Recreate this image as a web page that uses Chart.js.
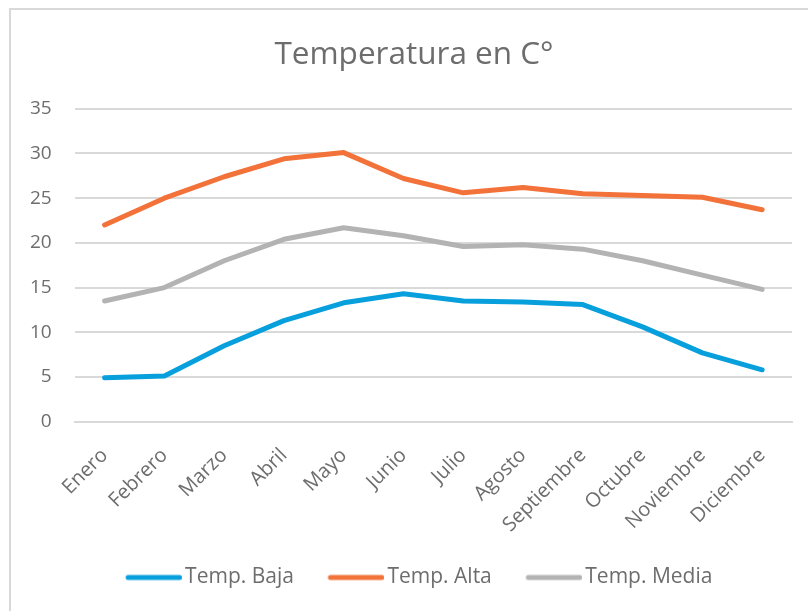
<!DOCTYPE html>
<html>
<head>
<meta charset="utf-8">
<script src="https://cdn.jsdelivr.net/npm/chart.js@4/dist/chart.umd.min.js"></script>
<style>
  html, body { margin: 0; padding: 0; background: #fff; overflow: hidden; width: 808px; height: 611px; }
  #box { position: absolute; left: 9px; top: 8px; width: 818px; height: 620px; border: 2px solid #d9d9d9; }
  #chart { display: block; }
</style>
</head>
<body>
<div id="box"><canvas id="chart" width="818" height="602"></canvas></div>
<script>
const months = ['Enero', 'Febrero', 'Marzo', 'Abril', 'Mayo', 'Junio', 'Julio', 'Agosto', 'Septiembre', 'Octubre', 'Noviembre', 'Diciembre'];
const tempBaja = [4.9, 5.1, 8.5, 11.3, 13.3, 14.3, 13.5, 13.4, 13.1, 10.6, 7.7, 5.8];
const tempAlta = [22, 25, 27.4, 29.4, 30.1, 27.2, 25.6, 26.2, 25.5, 25.3, 25.1, 23.7];
const tempMedia = [13.5, 15, 18, 20.4, 21.7, 20.8, 19.6, 19.8, 19.3, 18, 16.4, 14.8];

const textColor = '#6d6d6d';
const fontFamily = "'Open Sans', 'Noto Sans', sans-serif";
const legendFont = 21;
const keyWidth = 49; // legend box width

// legend key: a line that runs a bit past the box so it sits close to the text
const legendLine = (color) => {
    const shift = legendFont / 2 - 3;
    const c = document.createElement('canvas');
    c.width = keyWidth + 2 * shift;
    c.height = 8;
    const g = c.getContext('2d');
    g.strokeStyle = color;
    g.lineWidth = 5;
    g.lineCap = 'round';
    g.beginPath();
    g.moveTo(shift + 2.5, 4);
    g.lineTo(c.width - 2.5, 4);
    g.stroke();
    return c;
};

const makeSet = (label, data, color) => ({
    label: label,
    data: data,
    borderColor: color,
    backgroundColor: color,
    borderWidth: 5,
    borderCapStyle: 'round',
    borderJoinStyle: 'round',
    pointRadius: 0,
    pointStyle: legendLine(color),
    tension: 0,
    fill: false
});

// nudge legend and title a little to the right, the original isn't quite centred
const nudge = {
    id: 'nudge',
    afterLayout(chart) {
        chart.legend.left += 8;
        chart.legend.right += 8;
        chart.titleBlock.left += 3;
        chart.titleBlock.right += 3;
    }
};

new Chart(document.getElementById('chart').getContext('2d'), {
    type: 'line',
    data: {
        labels: months,
        datasets: [
            makeSet('Temp. Baja', tempBaja, '#079fdc'),
            makeSet('Temp. Alta', tempAlta, '#f2723a'),
            makeSet('Temp. Media', tempMedia, '#b3b3b3')
        ]
    },
    plugins: [nudge],
    options: {
        responsive: false,
        animation: false,
        layout: { padding: { left: 19, right: 37, top: 0, bottom: 14 } },
        plugins: {
            title: {
                display: true,
                text: 'Temperatura en C°',
                color: textColor,
                font: { family: fontFamily, size: 31.5, weight: 'normal' },
                padding: { top: 26, bottom: 35 }
            },
            legend: {
                position: 'bottom',
                labels: {
                    usePointStyle: true,
                    pointStyleWidth: keyWidth,
                    color: textColor,
                    font: { family: fontFamily, size: legendFont },
                    padding: 34
                }
            },
            tooltip: { enabled: false }
        },
        scales: {
            x: {
                offset: true,
                grid: { display: false, drawTicks: false },
                border: { display: true, color: '#d9d9d9', width: 2 },
                ticks: {
                    color: textColor,
                    font: { family: fontFamily, size: 20 },
                    maxRotation: 45,
                    minRotation: 45,
                    padding: 22
                },
                // drop the padding chart.js adds on the far side of the labels
                afterFit: (scale) => { scale.height -= scale.options.ticks.padding + 4; }
            },
            y: {
                min: 0,
                max: 35,
                grid: { color: '#d9d9d9', lineWidth: 2, drawTicks: false },
                border: { display: false },
                ticks: {
                    stepSize: 5,
                    color: textColor,
                    font: { family: fontFamily, size: 19 },
                    padding: 23
                },
                afterFit: (scale) => { scale.width -= scale.options.ticks.padding; }
            }
        }
    }
});
</script>
</body>
</html>
